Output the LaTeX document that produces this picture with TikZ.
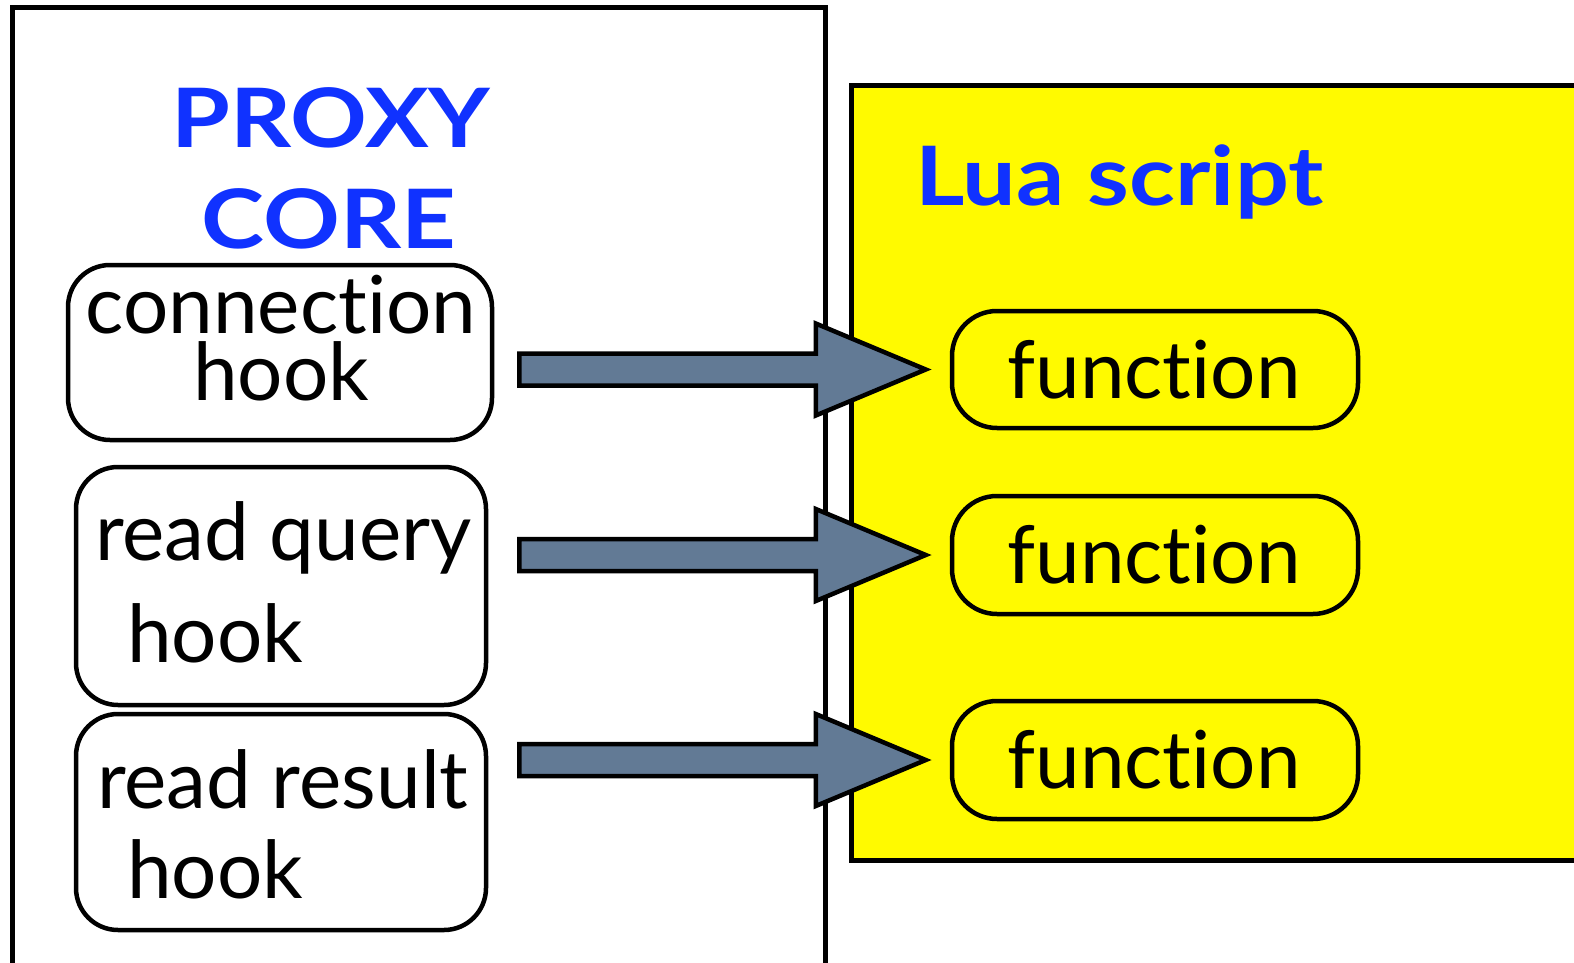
\documentclass[tikz,border=0pt]{standalone}
\usepackage{fontspec}
\setmainfont{Lato}[Ligatures={NoCommon}]
\newfontfamily\titlefont{Lato}[Ligatures={NoCommon}, FakeStretch=1.16]
\usetikzlibrary{calc}
\definecolor{titleblue}{RGB}{16,50,255}
\definecolor{luayellow}{RGB}{255,250,0}
\definecolor{slate}{RGB}{98,122,149}
\tikzset{
  frame/.style={draw=black, line width=5pt},
  hookbox/.style={draw=black, line width=4.5pt, rounded corners=42pt, fill=white, inner sep=0pt},
  funcbox/.style={draw=black, line width=4.5pt, rounded corners=45pt, fill=luayellow, inner sep=0pt},
  bigtext/.style={font=\fontsize{80}{96}\selectfont, inner sep=0pt},
  titletext/.style={font=\titlefont\fontsize{82}{100}\selectfont\bfseries, text=titleblue, inner sep=0pt},
  hookarrow/.style={draw=black, line width=4.5pt, fill=slate, line join=miter}
}
% fat arrow from a hook box (#1, start offset #3) to a function box (#2)
\newcommand\fatarrow[3]{%
  \path[hookarrow] let \p1=(#1.east), \p2=(#2.west) in
    (\x1+#3,\y2+16pt) -- (\x2-134pt,\y2+16pt) -- (\x2-134pt,\y2+46pt) --
    (\x2-24pt,\y2) -- (\x2-134pt,\y2-46pt) -- (\x2-134pt,\y2-16pt) --
    (\x1+#3,\y2-16pt) -- cycle;}
\begin{document}
\begin{tikzpicture}[x=1pt, y=-1pt]
\useasboundingbox (0,0) rectangle (1574,963);

% proxy core panel, open at the bottom
\draw[frame] (12,980) -- (12,8) -- (825,8) -- (825,980);
% lua script panel, running off the right edge
\draw[frame, fill=luayellow] (851,86) rectangle (1600,860);

\node[titletext, anchor=base] (proxy) at (331,148) {PROXY};
\node[titletext, anchor=base] (core) at (329,248) {CORE};
\node[titletext, anchor=base west] (lua) at (915,205) {Lua script};

% hook boxes
\node[hookbox, minimum width=424pt, minimum height=175pt] (h1) at (280,352.5) {};
\node[hookbox, minimum width=410pt, minimum height=238pt] (h2) at (281,586) {};
\node[hookbox, minimum width=410pt, minimum height=216pt] (h3) at (281,822) {};

\node[bigtext, anchor=base] (h1a) at (281,333) {connection};
\node[bigtext, anchor=base] (h1b) at (281,400) {hook};
\node[bigtext, anchor=base west] (h2a) at (95,560) {read query};
\node[bigtext, anchor=base west] (h2b) at (127,662) {hook};
\node[bigtext, anchor=base west] (h3a) at (97,808) {read result};
\node[bigtext, anchor=base west] (h3b) at (127,898) {hook};

% function boxes
\node[funcbox, minimum width=406pt, minimum height=117pt] (f1) at (1155,369.5) {};
\node[funcbox, minimum width=406pt, minimum height=118pt] (f2) at (1155,555) {};
\node[funcbox, minimum width=406pt, minimum height=118pt] (f3) at (1155,760) {};

\node[bigtext, anchor=base] (f1t) at (1154,398) {function};
\node[bigtext, anchor=base] (f2t) at (1154,583) {function};
\node[bigtext, anchor=base] (f3t) at (1154,788) {function};

% arrows from hooks to functions
\fatarrow{h1}{f1}{25pt}
\fatarrow{h2}{f2}{31pt}
\fatarrow{h3}{f3}{31pt}
\end{tikzpicture}
\end{document}
